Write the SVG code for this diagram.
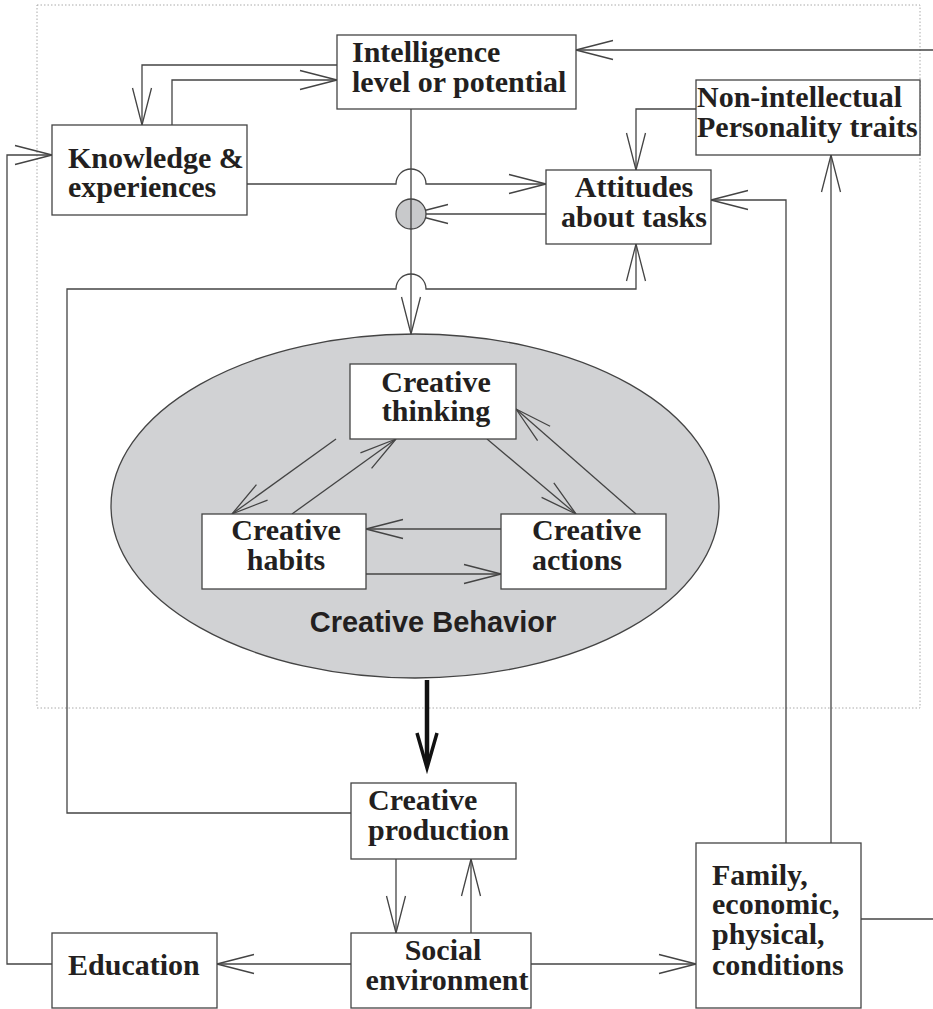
<svg xmlns="http://www.w3.org/2000/svg" width="933" height="1009" viewBox="0 0 933 1009">
<style>
.box{fill:#fff;stroke:#444;stroke-width:1.3}
.t{font-family:"Liberation Serif","Times New Roman",serif;font-weight:bold;font-size:30px;fill:#231f20}
.c{fill:none;stroke:#444;stroke-width:1.3}
.m{text-anchor:middle}
</style>
<defs>
<marker id="arr" markerUnits="userSpaceOnUse" markerWidth="42" markerHeight="24" viewBox="-39 -12 42 24" refX="0" refY="0" orient="auto" overflow="visible">
<path d="M-37,-9.5 L0,0 L-37,9.5" fill="none" stroke="#444" stroke-width="1.3"/>
</marker>
</defs>
<rect x="37" y="5" width="883" height="703" fill="none" stroke="#aaa" stroke-width="1" stroke-dasharray="1.5 2"/>
<g id="behavior">
<ellipse cx="415" cy="506" rx="304" ry="172" fill="#d1d2d4" stroke="#444" stroke-width="1.3"/>
<text x="433" y="632" class="m" style="font-family:'Liberation Sans',Arial,sans-serif;font-weight:bold;font-size:29px;fill:#231f20">Creative Behavior</text>
</g>
<g id="connectors">
<path class="c" d="M337 65 H142 V125" marker-end="url(#arr)"/>
<path class="c" d="M172 125 V80 H337" marker-end="url(#arr)"/>
<path class="c" d="M247 184 H396 A15 15 0 0 1 426 184 H546" marker-end="url(#arr)"/>
<path class="c" d="M546 214 H411" marker-end="url(#arr)"/>
<path class="c" d="M352 813 H67 V289 H396 A15 15 0 0 1 426 289 H636 V244" marker-end="url(#arr)"/>
<path class="c" d="M411 109 V334" marker-end="url(#arr)"/>
<path class="c" d="M696 109 H636 V170" marker-end="url(#arr)"/>
<path class="c" d="M933 50 H576" marker-end="url(#arr)"/>
<path class="c" d="M786 843 V200 H711" marker-end="url(#arr)"/>
<path class="c" d="M831 843 V155" marker-end="url(#arr)"/>
<path class="c" d="M861 919 H933"/>
<path class="c" d="M52 964 H7 V155 H52" marker-end="url(#arr)"/>
<path class="c" d="M352 964 H217" marker-end="url(#arr)"/>
<path class="c" d="M531 964 H696" marker-end="url(#arr)"/>
<path class="c" d="M396 859 V933" marker-end="url(#arr)"/>
<path class="c" d="M471 933 V859" marker-end="url(#arr)"/>
<path class="c" d="M292 514 L396 439" marker-end="url(#arr)"/>
<path class="c" d="M336 439 L232 514" marker-end="url(#arr)"/>
<path class="c" d="M487 439 L576 514" marker-end="url(#arr)"/>
<path class="c" d="M636 514 L516 409" marker-end="url(#arr)"/>
<path class="c" d="M501 529 H366" marker-end="url(#arr)"/>
<path class="c" d="M366 574 H501" marker-end="url(#arr)"/>
<path d="M427 680 V762" fill="none" stroke="#111" stroke-width="4.5"/>
<path d="M417 733 L427 768 L437 733" fill="none" stroke="#111" stroke-width="3.5"/>
</g>
<g id="merge">
<circle cx="411" cy="214" r="15" fill="#c8c9cb" stroke="#444" stroke-width="1.3"/>
<path class="c" d="M411 199 V229"/>
</g>
<g id="intelligence">
<rect class="box" x="337" y="35" width="239" height="74"/>
<text class="t" x="352" y="62">Intelligence</text>
<text class="t" x="352" y="92">level or potential</text>
</g>
<g id="knowledge">
<rect class="box" x="52" y="125" width="195" height="90"/>
<text class="t" x="68" y="168">Knowledge &amp;</text>
<text class="t" x="68" y="197">experiences</text>
</g>
<g id="attitudes">
<rect class="box" x="546" y="170" width="165" height="74"/>
<text class="t m" x="634" y="197">Attitudes</text>
<text class="t m" x="634" y="227">about tasks</text>
</g>
<g id="nonintellectual">
<rect class="box" x="696" y="80" width="224" height="75"/>
<text class="t" x="697" y="107">Non-intellectual</text>
<text class="t" x="697" y="137">Personality traits</text>
</g>
<g id="thinking">
<rect class="box" x="350" y="364" width="166" height="75"/>
<text class="t m" x="436" y="392">Creative</text>
<text class="t m" x="436" y="421">thinking</text>
</g>
<g id="habits">
<rect class="box" x="202" y="514" width="164" height="75"/>
<text class="t m" x="286" y="540">Creative</text>
<text class="t m" x="286" y="570">habits</text>
</g>
<g id="actions">
<rect class="box" x="501" y="514" width="165" height="75"/>
<text class="t" x="532" y="540">Creative</text>
<text class="t" x="532" y="570">actions</text>
</g>
<g id="production">
<rect class="box" x="351" y="783" width="165" height="76"/>
<text class="t" x="368" y="810">Creative</text>
<text class="t" x="368" y="840">production</text>
</g>
<g id="social">
<rect class="box" x="351" y="933" width="180" height="75"/>
<text class="t m" x="443" y="960">Social</text>
<text class="t m" x="447" y="990">environment</text>
</g>
<g id="education">
<rect class="box" x="52" y="933" width="165" height="75"/>
<text class="t" x="68" y="975">Education</text>
</g>
<g id="family">
<rect class="box" x="696" y="843" width="165" height="165"/>
<text class="t" x="712" y="885">Family,</text>
<text class="t" x="712" y="914">economic,</text>
<text class="t" x="712" y="944">physical,</text>
<text class="t" x="712" y="975">conditions</text>
</g>
</svg>
